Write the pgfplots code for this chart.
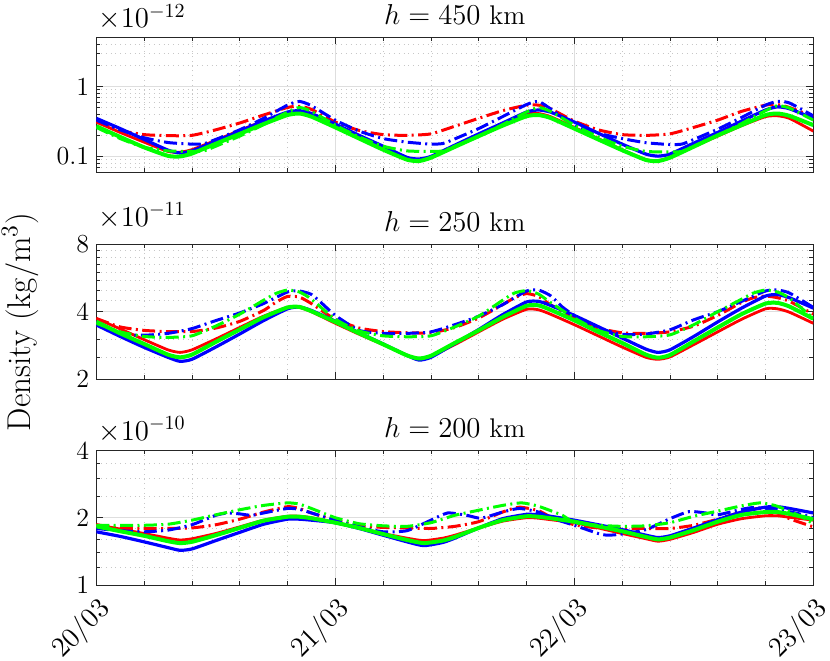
\documentclass[border=0pt]{standalone}
\usepackage{pgfplots}
\pgfplotsset{compat=1.18}
\definecolor{axcol}{rgb}{0.15,0.15,0.15}
\definecolor{gmaj}{rgb}{0.87,0.87,0.87}
\definecolor{gmin}{rgb}{0.78,0.78,0.78}
\tikzset{
  dd/.style={dash pattern=on 6.5pt off 2.2pt on 1pt off 2.2pt},
  rs/.style={red, line width=1.4pt, smooth, tension=0.35},
  rd/.style={red, line width=1.5pt, dd, smooth, tension=0.35},
  bs/.style={blue, line width=1.6pt, smooth, tension=0.35},
  bd/.style={blue, line width=1.5pt, dd, smooth, tension=0.35},
  gs/.style={green, line width=2pt, smooth, tension=0.35},
  gd/.style={green, line width=1.5pt, dd, smooth, tension=0.35},
}
\begin{document}
\begin{tikzpicture}
% ---------------- h = 450 km
\begin{axis}[at={(48.15pt,244pt)}, anchor=south west,
  scale only axis, width=358.5pt, height=67.3pt,
  ymode=log, xmin=0, xmax=3, xtick={0,1,2,3}, minor x tick num=4,
  tick align=inside, axis line style={draw=axcol, line width=0.5pt},
  tick style={draw=axcol, line width=0.4pt},
  major tick length=3.5pt, minor tick length=2pt,
  grid=both,
  major grid style={draw=gmaj, line width=0.4pt, solid},
  minor grid style={draw=gmin, line width=0.4pt, dotted},
  tick label style={font=\fontsize{13}{15}\selectfont},
  title style={at={(0.5,1)}, anchor=base, yshift=0.5pt, font=\fontsize{13.5}{16}\selectfont},
  ymin=0.06, ymax=5, ytick={0.1,1}, yticklabels={0.1,1},
  minor ytick={0.06,0.07,0.08,0.09,0.2,0.3,0.4,0.5,0.6,0.7,0.8,0.9,2,3,4,5},
  xticklabels={},
  title={$h = 450$ km}]
\addplot[rs] coordinates {(0,0.31)(0.1,0.22)(0.2,0.16)(0.3,0.118)(0.35,0.115)(0.4,0.125)(0.5,0.17)(0.6,0.235)(0.7,0.32)(0.8,0.42)(0.85,0.43)(0.9,0.38)(1.0,0.27)(1.1,0.185)(1.2,0.13)(1.3,0.092)(1.35,0.088)(1.4,0.098)(1.5,0.14)(1.6,0.2)(1.7,0.29)(1.8,0.40)(1.85,0.41)(1.9,0.37)(2.0,0.26)(2.1,0.18)(2.2,0.125)(2.3,0.09)(2.35,0.087)(2.4,0.097)(2.5,0.138)(2.6,0.195)(2.7,0.275)(2.8,0.37)(2.85,0.38)(2.9,0.35)(3.0,0.23)};
\addplot[rd] coordinates {(0,0.31)(0.1,0.235)(0.2,0.205)(0.3,0.198)(0.4,0.2)(0.5,0.24)(0.6,0.3)(0.7,0.39)(0.8,0.5)(0.85,0.52)(0.9,0.47)(1.0,0.31)(1.1,0.235)(1.2,0.205)(1.3,0.2)(1.4,0.21)(1.5,0.27)(1.6,0.35)(1.7,0.45)(1.8,0.54)(1.85,0.54)(1.9,0.48)(2.0,0.32)(2.1,0.24)(2.2,0.205)(2.3,0.2)(2.4,0.21)(2.5,0.26)(2.6,0.33)(2.7,0.44)(2.8,0.54)(2.85,0.55)(2.9,0.5)(3.0,0.37)};
\addplot[bs] coordinates {(0,0.35)(0.1,0.25)(0.2,0.175)(0.3,0.123)(0.35,0.112)(0.4,0.12)(0.5,0.165)(0.6,0.23)(0.7,0.32)(0.8,0.43)(0.85,0.45)(0.9,0.41)(1.0,0.29)(1.1,0.2)(1.2,0.14)(1.3,0.097)(1.35,0.092)(1.4,0.1)(1.5,0.145)(1.6,0.21)(1.7,0.3)(1.8,0.43)(1.85,0.46)(1.9,0.43)(2.0,0.31)(2.1,0.215)(2.2,0.15)(2.3,0.108)(2.35,0.101)(2.4,0.108)(2.5,0.155)(2.6,0.22)(2.7,0.32)(2.8,0.46)(2.85,0.51)(2.9,0.48)(3.0,0.35)};
\addplot[bd] coordinates {(0,0.33)(0.1,0.24)(0.2,0.185)(0.3,0.158)(0.4,0.15)(0.45,0.152)(0.5,0.175)(0.6,0.24)(0.7,0.35)(0.8,0.54)(0.85,0.61)(0.9,0.53)(1.0,0.33)(1.1,0.23)(1.2,0.18)(1.3,0.16)(1.4,0.15)(1.45,0.153)(1.5,0.178)(1.6,0.25)(1.7,0.37)(1.8,0.55)(1.85,0.61)(1.9,0.48)(2.0,0.28)(2.1,0.215)(2.2,0.18)(2.3,0.157)(2.4,0.148)(2.45,0.15)(2.5,0.175)(2.6,0.245)(2.7,0.36)(2.8,0.54)(2.85,0.61)(2.9,0.58)(3.0,0.38)};
\addplot[gs] coordinates {(0,0.27)(0.1,0.19)(0.2,0.135)(0.3,0.102)(0.35,0.1)(0.4,0.11)(0.5,0.152)(0.6,0.21)(0.7,0.29)(0.8,0.39)(0.85,0.41)(0.9,0.37)(1.0,0.26)(1.1,0.18)(1.2,0.125)(1.3,0.09)(1.35,0.086)(1.4,0.096)(1.5,0.137)(1.6,0.195)(1.7,0.275)(1.8,0.375)(1.85,0.39)(1.9,0.355)(2.0,0.25)(2.1,0.175)(2.2,0.123)(2.3,0.089)(2.35,0.086)(2.4,0.096)(2.5,0.138)(2.6,0.2)(2.7,0.28)(2.8,0.39)(2.85,0.41)(2.9,0.38)(3.0,0.28)};
\addplot[gd] coordinates {(0,0.26)(0.1,0.18)(0.2,0.135)(0.3,0.12)(0.4,0.118)(0.45,0.12)(0.5,0.14)(0.6,0.195)(0.7,0.285)(0.8,0.43)(0.85,0.5)(0.9,0.44)(1.0,0.28)(1.1,0.19)(1.2,0.14)(1.3,0.12)(1.4,0.118)(1.45,0.12)(1.5,0.14)(1.6,0.195)(1.7,0.285)(1.8,0.43)(1.85,0.5)(1.9,0.44)(2.0,0.28)(2.1,0.19)(2.2,0.14)(2.3,0.118)(2.4,0.116)(2.45,0.118)(2.5,0.14)(2.6,0.2)(2.7,0.295)(2.8,0.45)(2.85,0.53)(2.9,0.49)(3.0,0.33)};
\end{axis}
\node[anchor=base west, inner sep=0pt, font=\fontsize{14.5}{17}\selectfont] at (49pt,{330pt-13.8pt}) {$\times10^{-12}$};
% ---------------- h = 250 km
\begin{axis}[at={(48.15pt,140.5pt)}, anchor=south west,
  scale only axis, width=358.5pt, height=67.3pt,
  ymode=log, xmin=0, xmax=3, xtick={0,1,2,3}, minor x tick num=4,
  tick align=inside, axis line style={draw=axcol, line width=0.5pt},
  tick style={draw=axcol, line width=0.4pt},
  major tick length=3.5pt, minor tick length=2pt,
  grid=both,
  major grid style={draw=gmaj, line width=0.4pt, solid},
  minor grid style={draw=gmin, line width=0.4pt, dotted},
  tick label style={font=\fontsize{13}{15}\selectfont},
  title style={at={(0.5,1)}, anchor=base, yshift=0.5pt, font=\fontsize{13.5}{16}\selectfont},
  ymin=2, ymax=8, ytick={2,4,8}, yticklabels={2,4,8},
  minor ytick={2.5,3,4.5,5,5.5,6,6.5,7,7.5},
  xticklabels={},
  title={$h = 250$ km}]
\addplot[rs] coordinates {(0,3.73)(0.1,3.35)(0.2,3.0)(0.3,2.7)(0.35,2.63)(0.4,2.7)(0.5,3.02)(0.6,3.4)(0.7,3.82)(0.8,4.18)(0.85,4.18)(0.9,4.0)(1.0,3.55)(1.1,3.17)(1.2,2.85)(1.3,2.55)(1.35,2.47)(1.4,2.53)(1.5,2.85)(1.6,3.25)(1.7,3.7)(1.8,4.1)(1.85,4.08)(1.9,3.9)(2.0,3.5)(2.1,3.12)(2.2,2.78)(2.3,2.5)(2.35,2.45)(2.4,2.51)(2.5,2.85)(2.6,3.25)(2.7,3.7)(2.8,4.12)(2.85,4.12)(2.9,3.98)(3.0,3.55)};
\addplot[rd] coordinates {(0,3.73)(0.1,3.42)(0.2,3.3)(0.3,3.26)(0.4,3.26)(0.5,3.38)(0.6,3.62)(0.7,4.05)(0.75,4.4)(0.8,4.68)(0.85,4.65)(0.9,4.35)(0.95,4.0)(1.0,3.7)(1.1,3.38)(1.2,3.26)(1.3,3.22)(1.4,3.22)(1.5,3.4)(1.6,3.75)(1.7,4.3)(1.75,4.62)(1.8,4.82)(1.85,4.68)(1.9,4.3)(2.0,3.75)(2.1,3.38)(2.2,3.22)(2.3,3.2)(2.4,3.25)(2.5,3.45)(2.6,3.85)(2.7,4.4)(2.75,4.62)(2.8,4.7)(2.85,4.62)(2.9,4.45)(3.0,3.9)};
\addplot[bs] coordinates {(0,3.49)(0.1,3.1)(0.2,2.77)(0.3,2.5)(0.35,2.4)(0.4,2.45)(0.5,2.78)(0.6,3.18)(0.7,3.65)(0.8,4.12)(0.85,4.2)(0.9,4.05)(1.0,3.63)(1.1,3.22)(1.2,2.87)(1.3,2.55)(1.35,2.43)(1.4,2.5)(1.5,2.88)(1.6,3.33)(1.7,3.88)(1.8,4.42)(1.85,4.45)(1.9,4.27)(2.0,3.85)(2.1,3.43)(2.2,3.05)(2.3,2.72)(2.35,2.63)(2.4,2.7)(2.5,3.1)(2.6,3.6)(2.7,4.15)(2.8,4.7)(2.85,4.77)(2.9,4.62)(3.0,4.15)};
\addplot[bd] coordinates {(0,3.61)(0.1,3.18)(0.2,3.14)(0.3,3.2)(0.4,3.36)(0.5,3.65)(0.6,3.95)(0.7,4.35)(0.8,4.9)(0.85,4.95)(0.9,4.78)(0.95,4.3)(1.0,3.85)(1.1,3.3)(1.2,3.2)(1.3,3.2)(1.4,3.25)(1.5,3.5)(1.6,3.82)(1.7,4.3)(1.8,4.95)(1.85,5.0)(1.9,4.72)(1.95,4.2)(2.0,3.85)(2.1,3.38)(2.2,3.17)(2.3,3.18)(2.4,3.32)(2.5,3.68)(2.6,4.0)(2.7,4.45)(2.8,4.95)(2.85,5.0)(2.9,4.85)(3.0,4.18)};
\addplot[gs] coordinates {(0,3.61)(0.1,3.2)(0.2,2.87)(0.3,2.57)(0.35,2.5)(0.4,2.57)(0.5,2.93)(0.6,3.33)(0.7,3.78)(0.8,4.18)(0.85,4.2)(0.9,4.02)(1.0,3.6)(1.1,3.2)(1.2,2.86)(1.3,2.55)(1.35,2.47)(1.4,2.54)(1.5,2.9)(1.6,3.3)(1.7,3.78)(1.8,4.25)(1.85,4.27)(1.9,4.08)(2.0,3.66)(2.1,3.25)(2.2,2.9)(2.3,2.57)(2.35,2.49)(2.4,2.56)(2.5,2.95)(2.6,3.4)(2.7,3.9)(2.8,4.35)(2.85,4.38)(2.9,4.22)(3.0,3.72)};
\addplot[gd] coordinates {(0,3.55)(0.1,3.25)(0.2,3.1)(0.3,3.07)(0.4,3.12)(0.5,3.45)(0.6,3.9)(0.7,4.5)(0.75,4.82)(0.8,5.0)(0.85,4.9)(0.9,4.55)(1.0,3.7)(1.1,3.28)(1.2,3.12)(1.3,3.09)(1.4,3.12)(1.5,3.42)(1.6,3.82)(1.7,4.5)(1.75,4.85)(1.8,4.97)(1.85,4.8)(1.9,4.4)(2.0,3.75)(2.1,3.3)(2.2,3.1)(2.3,3.09)(2.4,3.15)(2.5,3.5)(2.6,4.0)(2.7,4.55)(2.75,4.85)(2.8,5.0)(2.85,4.9)(2.9,4.6)(3.0,3.74)};
\end{axis}
\node[anchor=base west, inner sep=0pt, font=\fontsize{14.5}{17}\selectfont] at (49pt,{330pt-113pt}) {$\times10^{-11}$};
% ---------------- h = 200 km
\begin{axis}[at={(48.15pt,37.5pt)}, anchor=south west,
  scale only axis, width=358.5pt, height=67.3pt,
  ymode=log, xmin=0, xmax=3, xtick={0,1,2,3}, minor x tick num=4,
  tick align=inside, axis line style={draw=axcol, line width=0.5pt},
  tick style={draw=axcol, line width=0.4pt},
  major tick length=3.5pt, minor tick length=2pt,
  grid=both,
  major grid style={draw=gmaj, line width=0.4pt, solid},
  minor grid style={draw=gmin, line width=0.4pt, dotted},
  tick label style={font=\fontsize{13}{15}\selectfont},
  title style={at={(0.5,1)}, anchor=base, yshift=0.5pt, font=\fontsize{13.5}{16}\selectfont},
  ymin=1, ymax=4, ytick={1,2,4}, yticklabels={1,2,4},
  minor ytick={1.2,1.4,1.6,1.8,2.5,3,3.5},
  xticklabels={20/03,21/03,22/03,23/03},
  xticklabel style={font=\fontsize{14}{16}\selectfont, xshift=5pt, yshift=-10pt, rotate=45, anchor=east, inner sep=0pt},
  title={$h = 200$ km}]
\addplot[rs] coordinates {(0,1.86)(0.1,1.78)(0.2,1.7)(0.3,1.62)(0.35,1.59)(0.4,1.61)(0.5,1.7)(0.6,1.82)(0.7,1.95)(0.8,2.03)(0.85,2.03)(0.9,2.0)(1.0,1.9)(1.1,1.8)(1.2,1.7)(1.3,1.62)(1.37,1.58)(1.45,1.62)(1.5,1.67)(1.6,1.8)(1.7,1.93)(1.8,2.0)(1.85,1.99)(1.9,1.96)(2.0,1.9)(2.1,1.8)(2.2,1.7)(2.3,1.61)(2.35,1.57)(2.4,1.6)(2.5,1.72)(2.6,1.87)(2.7,1.98)(2.8,2.04)(2.85,2.04)(2.9,2.01)(3.0,1.95)};
\addplot[rd] coordinates {(0,1.86)(0.1,1.8)(0.2,1.79)(0.3,1.79)(0.4,1.8)(0.5,1.86)(0.6,1.97)(0.7,2.12)(0.8,2.24)(0.85,2.2)(0.9,2.1)(1.0,1.95)(1.1,1.84)(1.2,1.81)(1.3,1.8)(1.4,1.79)(1.5,1.83)(1.6,1.92)(1.7,2.12)(1.77,2.23)(1.85,2.15)(1.9,2.02)(2.0,1.86)(2.1,1.8)(2.2,1.79)(2.3,1.79)(2.4,1.79)(2.5,1.85)(2.6,1.97)(2.7,2.12)(2.77,2.2)(2.85,2.1)(2.9,1.98)(3.0,1.82)};
\addplot[bs] coordinates {(0,1.73)(0.1,1.65)(0.2,1.56)(0.3,1.47)(0.35,1.43)(0.4,1.45)(0.5,1.58)(0.6,1.72)(0.7,1.87)(0.8,1.97)(0.85,1.97)(0.9,1.95)(1.0,1.9)(1.1,1.79)(1.2,1.67)(1.3,1.56)(1.37,1.5)(1.45,1.55)(1.5,1.62)(1.6,1.8)(1.7,1.98)(1.8,2.07)(1.85,2.06)(1.9,2.03)(2.0,1.95)(2.1,1.86)(2.2,1.77)(2.3,1.67)(2.35,1.63)(2.4,1.66)(2.5,1.8)(2.6,1.96)(2.7,2.12)(2.8,2.23)(2.85,2.24)(2.9,2.2)(3.0,2.1)};
\addplot[bd] coordinates {(0,1.79)(0.1,1.75)(0.2,1.73)(0.3,1.76)(0.4,1.86)(0.5,2.05)(0.55,2.1)(0.6,2.08)(0.65,2.05)(0.7,2.1)(0.8,2.2)(0.85,2.18)(0.9,2.1)(1.0,1.95)(1.1,1.82)(1.2,1.73)(1.3,1.75)(1.4,1.95)(1.47,2.1)(1.55,2.05)(1.61,1.99)(1.7,2.12)(1.77,2.2)(1.85,2.12)(1.9,2.0)(2.0,1.85)(2.1,1.7)(2.14,1.67)(2.2,1.69)(2.3,1.77)(2.4,1.98)(2.48,2.13)(2.55,2.1)(2.6,2.06)(2.7,2.18)(2.75,2.22)(2.85,2.18)(2.95,2.07)(3.0,2.0)};
\addplot[gs] coordinates {(0,1.83)(0.1,1.74)(0.2,1.66)(0.3,1.57)(0.35,1.54)(0.4,1.56)(0.5,1.67)(0.6,1.8)(0.7,1.94)(0.8,2.02)(0.85,2.02)(0.9,1.99)(1.0,1.9)(1.1,1.8)(1.2,1.69)(1.3,1.59)(1.37,1.54)(1.45,1.58)(1.5,1.64)(1.6,1.8)(1.7,1.95)(1.8,2.03)(1.85,2.02)(1.9,1.99)(2.0,1.92)(2.1,1.83)(2.2,1.74)(2.3,1.64)(2.35,1.6)(2.4,1.63)(2.5,1.76)(2.6,1.92)(2.7,2.06)(2.8,2.12)(2.85,2.12)(2.9,2.08)(3.0,1.97)};
\addplot[gd] coordinates {(0,1.85)(0.1,1.85)(0.2,1.85)(0.3,1.87)(0.4,1.95)(0.5,2.06)(0.6,2.17)(0.7,2.27)(0.8,2.33)(0.85,2.3)(0.9,2.2)(1.0,2.0)(1.1,1.88)(1.2,1.84)(1.3,1.83)(1.4,1.9)(1.5,2.05)(1.6,2.16)(1.7,2.27)(1.78,2.33)(1.85,2.25)(1.95,2.05)(2.0,1.9)(2.1,1.85)(2.2,1.83)(2.3,1.84)(2.4,1.9)(2.5,2.03)(2.6,2.14)(2.7,2.26)(2.78,2.33)(2.85,2.25)(2.95,2.02)(3.0,1.88)};
\end{axis}
\node[anchor=base west, inner sep=0pt, font=\fontsize{14.5}{17}\selectfont] at (49pt,{330pt-220pt}) {$\times10^{-10}$};
\node[rotate=90, anchor=base, font=\fontsize{16.5}{19}\selectfont] at (15pt,169pt) {Density (kg/m$^3$)};
\pgfresetboundingbox
\useasboundingbox (0,0) rectangle (415pt,330pt);
\end{tikzpicture}
\end{document}
